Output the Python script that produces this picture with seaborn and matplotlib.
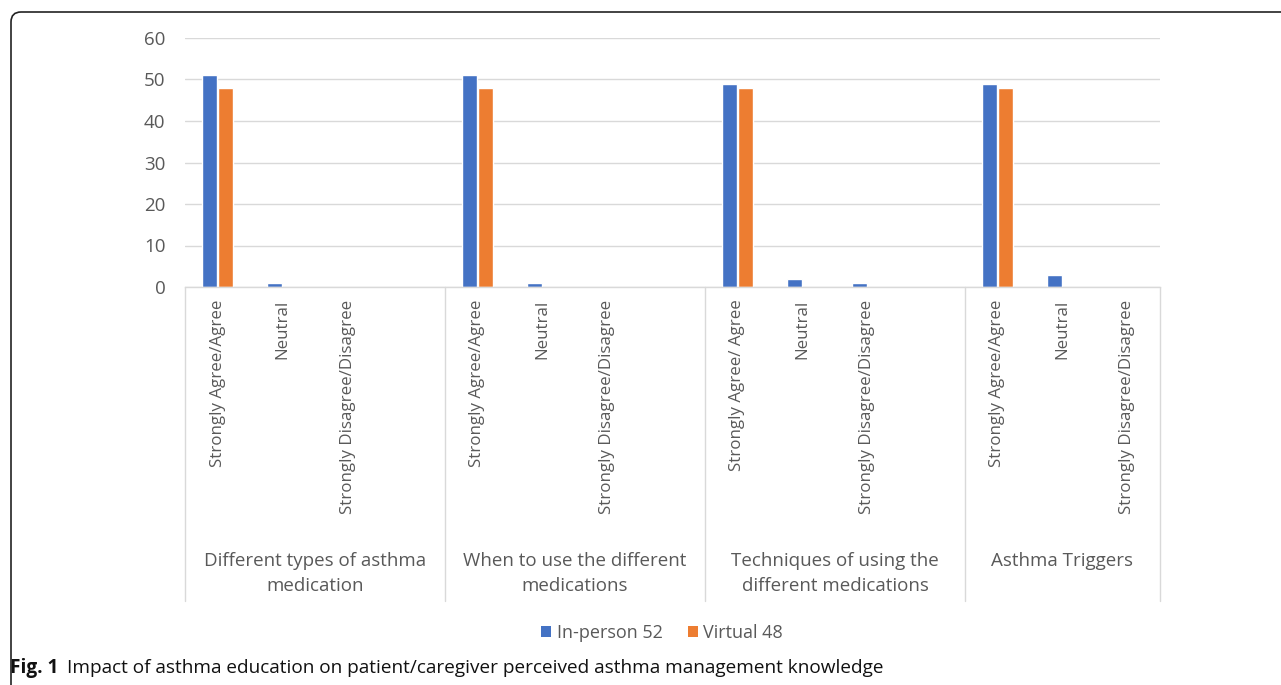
import matplotlib
matplotlib.use("Agg")
import matplotlib.pyplot as plt
from matplotlib.patches import FancyBboxPatch, Patch
import matplotlib.transforms as mtransforms
import seaborn as sns
import pandas as pd

# ---- data ----
groups = ["Different types of asthma\nmedication",
          "When to use the different\nmedications",
          "Techniques of using the\ndifferent medications",
          "Asthma Triggers"]
responses = [["Strongly Agree/Agree", "Neutral", "Strongly Disagree/Disagree"],
             ["Strongly Agree/Agree", "Neutral", "Strongly Disagree/Disagree"],
             ["Strongly Agree/ Agree", "Neutral", "Strongly Disagree/Disagree"],
             ["Strongly Agree/Agree", "Neutral", "Strongly Disagree/Disagree"]]
in_person = [[51, 1, 0], [51, 1, 0], [49, 2, 1], [49, 3, 0]]
virtual = [[48, 0, 0], [48, 0, 0], [48, 0, 0], [48, 0, 0]]
series_names = ["In-person 52", "Virtual 48"]
yticks = [0, 10, 20, 30, 40, 50, 60]
caption_bold = "Fig. 1"
caption_text = "Impact of asthma education on patient/caregiver perceived asthma management knowledge"

BLUE = "#4472C4"
ORANGE = "#ED7D31"
TXT = "#595959"
GRID = "#D9D9D9"

# build long table (each group followed by an empty category slot, except the last)
rows = []
order = []
ticklabels = []
group_bounds = [-0.5]
pos = 0
for gi, g in enumerate(groups):
    for ri, r in enumerate(responses[gi]):
        key = f"g{gi}_r{ri}"
        order.append(key)
        ticklabels.append(r)
        rows.append({"pos": key, "series": series_names[0], "value": in_person[gi][ri]})
        rows.append({"pos": key, "series": series_names[1], "value": virtual[gi][ri]})
        pos += 1
    if gi < len(groups) - 1:
        order.append(f"blank{gi}")
        ticklabels.append("")
        pos += 1
    group_bounds.append(pos - 0.5)
df = pd.DataFrame(rows)

sns.set_theme(style="white")
plt.rcParams["font.family"] = ["Open Sans", "DejaVu Sans"]

W, H = 1281, 685
fig = plt.figure(figsize=(W / 100, H / 100), dpi=100)
ax = fig.add_axes([185 / W, (H - 287) / H, 975 / W, 249 / H])

sns.barplot(data=df, x="pos", y="value", hue="series", order=order,
            hue_order=series_names, palette=[BLUE, ORANGE],
            width=0.5, gap=0.1, ax=ax, legend=False, saturation=1)

ax.set_ylim(0, 60)
ax.set_xlim(-0.5, len(order) - 0.5)
ax.set_yticks(yticks)
ax.set_yticklabels([str(v) for v in yticks], color=TXT, fontsize=13.5)
ax.set_xticks(range(len(order)))
ax.set_xticklabels(ticklabels, rotation=90, color=TXT, fontsize=12.2)
ax.tick_params(axis="x", length=0, pad=9)
ax.tick_params(axis="y", length=0, pad=14)
ax.set_xlabel("")
ax.set_ylabel("")
ax.set_axisbelow(True)
ax.yaxis.grid(True, color=GRID, linewidth=1)
for s in ["top", "right", "left"]:
    ax.spines[s].set_visible(False)
ax.spines["bottom"].set_color(GRID)
ax.spines["bottom"].set_linewidth(1)

# group separators and group labels
trans = mtransforms.blended_transform_factory(ax.transData, ax.transAxes)
bottom_ax = -(601 - 287) / 249
for b in group_bounds:
    ax.plot([b, b], [0, bottom_ax], transform=trans, color=GRID, linewidth=1,
            clip_on=False)
label_y = -(552 - 287) / 249
for gi, g in enumerate(groups):
    cx = (group_bounds[gi] + group_bounds[gi + 1]) / 2
    ax.text(cx, label_y, g, transform=trans, ha="center", va="top",
            fontsize=13.5, color=TXT, linespacing=1.5)

# legend
handles = [Patch(facecolor=BLUE, edgecolor="none", label=series_names[0]),
           Patch(facecolor=ORANGE, edgecolor="none", label=series_names[1])]
fig.legend(handles=handles, loc="center", bbox_to_anchor=(662 / W, (H - 633) / H),
           ncol=2, frameon=False, handlelength=0.55, handleheight=0.55,
           handletextpad=0.3, columnspacing=1.4, fontsize=13, labelcolor=TXT)

# frame with rounded top-left corner
frame = FancyBboxPatch((11, -100), 1500, H - 12 + 100, boxstyle="round,pad=0,rounding_size=10",
                       transform=None, facecolor="none", edgecolor="#222222",
                       linewidth=1.2)
fig.patches.append(frame)

# caption
t1 = fig.text(10 / W, (H - 668) / H, caption_bold, fontweight="bold", fontsize=13.7,
              color="#111111", va="center", ha="left")
fig.canvas.draw()
bb = t1.get_window_extent(renderer=fig.canvas.get_renderer())
fig.text((bb.x1 + 9) / W, (H - 668) / H, caption_text, fontsize=13.7,
         color="#111111", va="center", ha="left")

fig.savefig("out.png", dpi=100)
